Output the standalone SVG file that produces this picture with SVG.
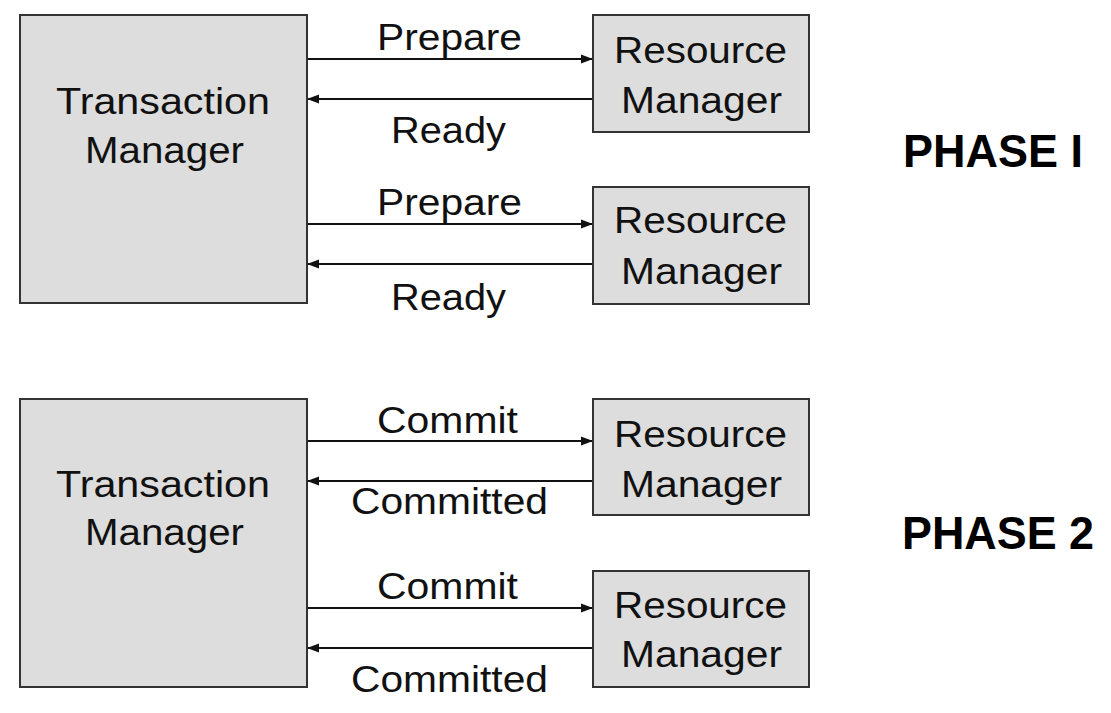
<svg xmlns="http://www.w3.org/2000/svg" width="1111" height="713" viewBox="0 0 1111 713">
<style>
.box{fill:#dddddd;stroke:#333333;stroke-width:2}
.t{font-family:"Liberation Sans",Arial,sans-serif;font-size:37px;fill:#111111}
.ph{font-family:"Liberation Sans",Arial,sans-serif;font-size:46px;font-weight:bold;fill:#000000}
.c{stroke:#111111;stroke-width:2;fill:none;marker-end:url(#ah)}
</style>
<defs>
<marker id="ah" markerWidth="13" markerHeight="11" refX="12" refY="5.5" orient="auto" markerUnits="userSpaceOnUse">
<path d="M0,1 L12,5.5 L0,10 Z" fill="#111111"/>
</marker>
</defs>
<rect width="1111" height="713" fill="#ffffff"/>
<g id="connectors">
<line class="c" x1="307" y1="59" x2="593" y2="59"/>
<line class="c" x1="593" y1="99" x2="307" y2="99"/>
<line class="c" x1="307" y1="224" x2="593" y2="224"/>
<line class="c" x1="593" y1="264" x2="307" y2="264"/>
<line class="c" x1="307" y1="441" x2="593" y2="441"/>
<line class="c" x1="593" y1="481" x2="307" y2="481"/>
<line class="c" x1="307" y1="608" x2="593" y2="608"/>
<line class="c" x1="593" y1="648" x2="307" y2="648"/>
<text class="t" x="377" y="50" textLength="145" lengthAdjust="spacingAndGlyphs">Prepare</text>
<text class="t" x="391" y="143" textLength="115" lengthAdjust="spacingAndGlyphs">Ready</text>
<text class="t" x="377" y="215" textLength="145" lengthAdjust="spacingAndGlyphs">Prepare</text>
<text class="t" x="391" y="310" textLength="115" lengthAdjust="spacingAndGlyphs">Ready</text>
<text class="t" x="377" y="433" textLength="141" lengthAdjust="spacingAndGlyphs">Commit</text>
<text class="t" x="351" y="514" textLength="197" lengthAdjust="spacingAndGlyphs">Committed</text>
<text class="t" x="377" y="599" textLength="141" lengthAdjust="spacingAndGlyphs">Commit</text>
<text class="t" x="351" y="692" textLength="197" lengthAdjust="spacingAndGlyphs">Committed</text>
</g>
<g id="tm1">
<rect class="box" x="20" y="15" width="287" height="288"/>
<text class="t" x="56" y="114" textLength="214" lengthAdjust="spacingAndGlyphs">Transaction</text>
<text class="t" x="85" y="163" textLength="159" lengthAdjust="spacingAndGlyphs">Manager</text>
</g>
<g id="rm1">
<rect class="box" x="593" y="15" width="216" height="117"/>
<text class="t" x="614" y="63" textLength="173" lengthAdjust="spacingAndGlyphs">Resource</text>
<text class="t" x="621" y="113" textLength="161" lengthAdjust="spacingAndGlyphs">Manager</text>
</g>
<g id="rm2">
<rect class="box" x="593" y="187" width="216" height="117"/>
<text class="t" x="614" y="233" textLength="173" lengthAdjust="spacingAndGlyphs">Resource</text>
<text class="t" x="621" y="284" textLength="161" lengthAdjust="spacingAndGlyphs">Manager</text>
</g>
<g id="phase1">
<text class="ph" x="903" y="167" textLength="180" lengthAdjust="spacingAndGlyphs">PHASE I</text>
</g>
<g id="tm2">
<rect class="box" x="20" y="399" width="287" height="288"/>
<text class="t" x="56" y="497" textLength="214" lengthAdjust="spacingAndGlyphs">Transaction</text>
<text class="t" x="85" y="545" textLength="159" lengthAdjust="spacingAndGlyphs">Manager</text>
</g>
<g id="rm3">
<rect class="box" x="593" y="399" width="216" height="116"/>
<text class="t" x="614" y="447" textLength="173" lengthAdjust="spacingAndGlyphs">Resource</text>
<text class="t" x="621" y="497" textLength="161" lengthAdjust="spacingAndGlyphs">Manager</text>
</g>
<g id="rm4">
<rect class="box" x="593" y="571" width="216" height="116"/>
<text class="t" x="614" y="618" textLength="173" lengthAdjust="spacingAndGlyphs">Resource</text>
<text class="t" x="621" y="667" textLength="161" lengthAdjust="spacingAndGlyphs">Manager</text>
</g>
<g id="phase2">
<text class="ph" x="902" y="549" textLength="192" lengthAdjust="spacingAndGlyphs">PHASE 2</text>
</g>
</svg>
